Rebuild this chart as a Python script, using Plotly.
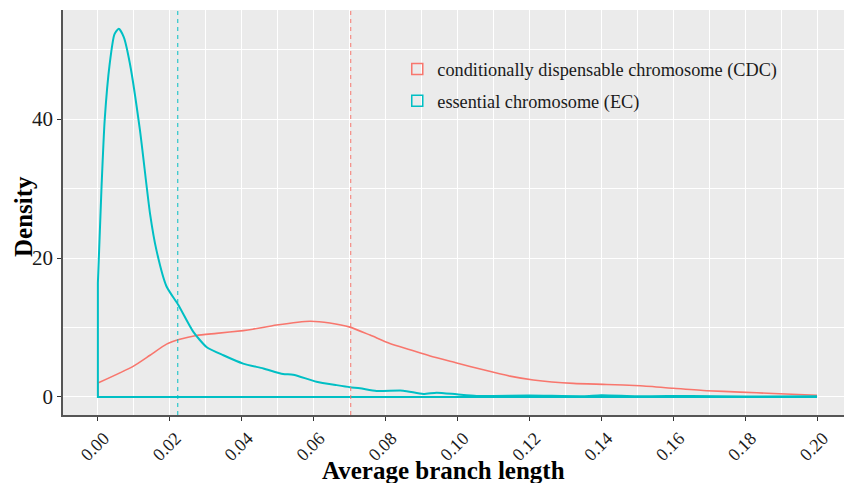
import plotly.graph_objects as go

# Data
cdc_x = [0, 0.0098, 0.0145, 0.0191, 0.0228, 0.0274, 0.033, 0.0404, 0.0431, 0.0497, 0.059,
         0.0645, 0.0701, 0.0757, 0.0812, 0.0868, 0.0924, 0.0998, 0.1072, 0.1146, 0.1211,
         0.1322, 0.1415, 0.1508, 0.16, 0.1693, 0.1786, 0.1878, 0.2]
cdc_y = [2.0, 4.4, 6.0, 7.6, 8.3, 8.85, 9.15, 9.55, 9.75, 10.35, 10.9,
         10.65, 10.05, 8.9, 7.7, 6.8, 5.9, 4.9, 3.9, 3.0, 2.45,
         1.95, 1.8, 1.6, 1.25, 0.9, 0.7, 0.5, 0.25]

ec_x = [0, 0.0010, 0.0019, 0.0033, 0.0046, 0.0058, 0.0072, 0.0089, 0.0117, 0.0145, 0.0163,
        0.0191, 0.0223, 0.0265, 0.0302, 0.0349, 0.0404, 0.0460, 0.0515, 0.0543, 0.0608,
        0.0664, 0.0701, 0.0729, 0.0775, 0.0849, 0.0905, 0.0942, 0.0998, 0.1053, 0.12,
        0.135, 0.14, 0.15, 0.165, 0.18, 0.2]
ec_y = [16.4, 30, 39.9, 48, 52.2, 53.0, 51.8, 48, 38.4, 26.4, 21.1,
        15.9, 13.3, 9.4, 7.2, 6.0, 4.8, 4.1, 3.3, 3.2, 2.2,
        1.7, 1.4, 1.25, 0.86, 0.9, 0.43, 0.62, 0.38, 0.15, 0.2,
        0.1, 0.25, 0.1, 0.15, 0.05, 0.1]

cdc_mean = 0.0703
ec_mean = 0.0222

names = ["conditionally dispensable chromosome (CDC)", "essential chromosome (EC)"]
colors = ["#F8766D", "#00BFC4"]
x_ticks = [0.00, 0.02, 0.04, 0.06, 0.08, 0.10, 0.12, 0.14, 0.16, 0.18, 0.20]
x_tick_text = ["0.00", "0.02", "0.04", "0.06", "0.08", "0.10", "0.12", "0.14", "0.16", "0.18", "0.20"]
y_ticks = [0, 20, 40]

FONT = "Liberation Serif"

fig = go.Figure()

series = [(cdc_x, cdc_y, cdc_mean), (ec_x, ec_y, ec_mean)]
widths = [1.6, 2.0]
for (xs, ys, m), name, col, w in zip(series, names, colors, widths):
    # baseline + left vertical edge of the density outline
    fig.add_trace(go.Scatter(x=[xs[-1], xs[0], xs[0]], y=[0, 0, ys[0]], mode="lines",
                             line=dict(color=col, width=w), showlegend=False, hoverinfo="skip"))
    fig.add_trace(go.Scatter(x=xs, y=ys, mode="lines", line=dict(color=col, width=w, shape="spline", smoothing=0.6),
                             showlegend=False, name=name))

for (xs, ys, m), col in zip(series, colors):
    fig.add_vline(x=m, line=dict(color=col, width=1.3, dash="4px,4px"), opacity=0.75)

for i, (name, col) in enumerate(zip(names, colors)):
    fig.add_trace(go.Scatter(x=[None], y=[None], mode="markers", name=name, legendgroup=str(i),
                             marker=dict(symbol="square-open", size=11, color=col, line=dict(width=1.5, color=col))))

fig.update_layout(
    width=844, height=483,
    margin=dict(l=63, r=0, t=10, b=68, autoexpand=False),
    paper_bgcolor="white", plot_bgcolor="#EBEBEB",
    font=dict(family=FONT, color="black"),
    legend=dict(x=0.428, y=0.9, xanchor="left", yanchor="top", bgcolor="rgba(0,0,0,0)",
                font=dict(family=FONT, size=18.3, color="#1a1a1a"), tracegroupgap=5),
    showlegend=True,
)

fig.update_xaxes(range=[-0.0097, 0.2075], tickvals=x_ticks, ticktext=x_tick_text, tickangle=-45,
                 tickfont=dict(family=FONT, size=18, color="#1a1a1a"), automargin=False,
                 ticklabelshift=6,
                 showgrid=True, gridcolor="white", gridwidth=1.2,
                 minor=dict(dtick=0.01, tick0=0.01, showgrid=True, gridcolor="white", gridwidth=0.5, ticks=""),
                 ticks="outside", ticklen=4, tickcolor="#333333",
                 showline=True, linecolor="#555555", linewidth=1.5, zeroline=False)
fig.update_yaxes(range=[-2.6, 55.7], tickvals=y_ticks, automargin=False,
                 tickfont=dict(family=FONT, size=21, color="#1a1a1a"),
                 showgrid=True, gridcolor="white", gridwidth=1.2,
                 minor=dict(dtick=10, tick0=10, showgrid=True, gridcolor="white", gridwidth=0.5, ticks=""),
                 ticks="outside", ticklen=4, tickcolor="#333333",
                 showline=True, linecolor="#555555", linewidth=1.5, zeroline=False)

fig.add_annotation(text="<b>Average branch length</b>", xref="paper", yref="paper",
                   x=(443 - 63) / 781, y=-(471 - 415) / 405, xanchor="center", yanchor="middle",
                   showarrow=False, font=dict(family=FONT, size=25, color="black"))
fig.add_annotation(text="<b>Density</b>", xref="paper", yref="paper", textangle=-90,
                   x=-(63 - 24) / 781, y=(415 - 217) / 405, xanchor="center", yanchor="middle",
                   showarrow=False, font=dict(family=FONT, size=25, color="black"))

fig.write_html("out.html", config={"displayModeBar": False},
               post_script="document.body.style.margin='0';")
